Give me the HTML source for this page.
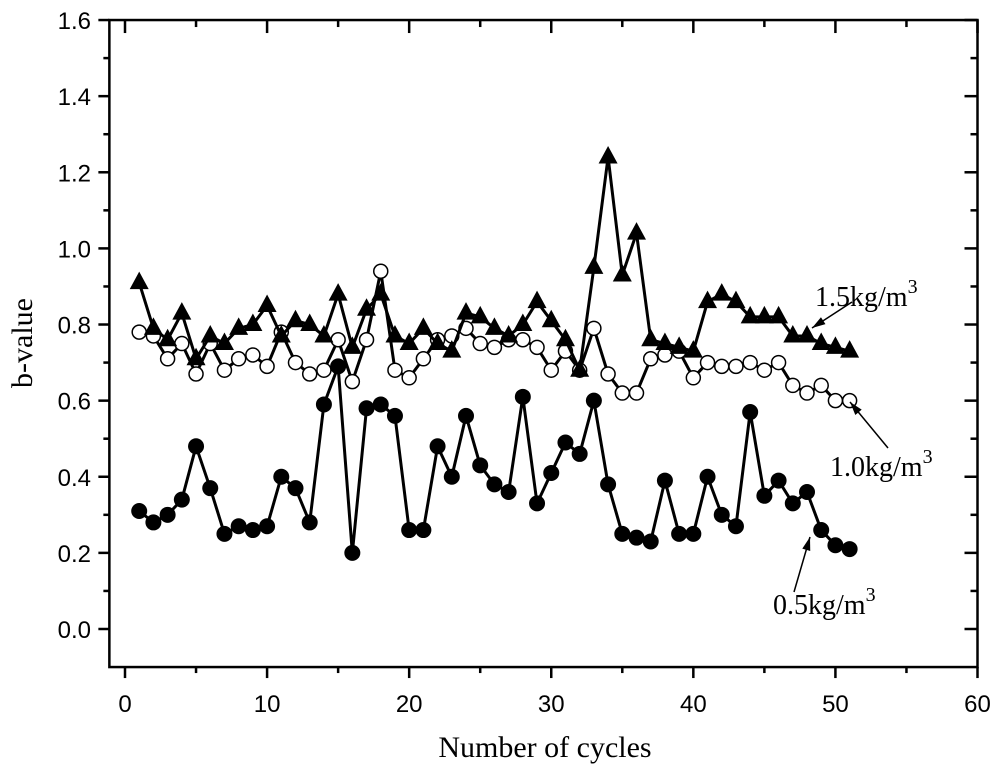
<!DOCTYPE html>
<html><head><meta charset="utf-8"><style>body{margin:0;background:#fff}svg{display:block}</style></head>
<body>
<svg id="chart" width="1000" height="774" xmlns="http://www.w3.org/2000/svg"></svg>
<script>
const cycles=[];for(let i=1;i<=51;i++)cycles.push(i);
const s15=[0.91,0.79,0.76,0.83,0.71,0.77,0.75,0.79,0.80,0.85,0.77,0.81,0.80,0.77,0.88,0.74,0.84,0.88,0.77,0.75,0.79,0.75,0.73,0.83,0.82,0.79,0.77,0.80,0.86,0.81,0.76,0.68,0.95,1.24,0.93,1.04,0.76,0.75,0.74,0.73,0.86,0.88,0.86,0.82,0.82,0.82,0.77,0.77,0.75,0.74,0.73];
const s10=[0.78,0.77,0.71,0.75,0.67,0.75,0.68,0.71,0.72,0.69,0.78,0.70,0.67,0.68,0.76,0.65,0.76,0.94,0.68,0.66,0.71,0.76,0.77,0.79,0.75,0.74,0.76,0.76,0.74,0.68,0.73,0.68,0.79,0.67,0.62,0.62,0.71,0.72,0.73,0.66,0.70,0.69,0.69,0.70,0.68,0.70,0.64,0.62,0.64,0.60,0.60];
const s05=[0.31,0.28,0.30,0.34,0.48,0.37,0.25,0.27,0.26,0.27,0.40,0.37,0.28,0.59,0.69,0.20,0.58,0.59,0.56,0.26,0.26,0.48,0.40,0.56,0.43,0.38,0.36,0.61,0.33,0.41,0.49,0.46,0.60,0.38,0.25,0.24,0.23,0.39,0.25,0.25,0.40,0.30,0.27,0.57,0.35,0.39,0.33,0.36,0.26,0.22,0.21];
const xTicks=[0,10,20,30,40,50,60];
const yTicks=[0.0,0.2,0.4,0.6,0.8,1.0,1.2,1.4,1.6];
const X=v=>125+v*(852.5/60), Y=v=>629-v*380.6;
const L=X(-1.1),R=X(60),T=Y(1.6),B=Y(-0.1);
const svg=document.getElementById('chart');const NS='http://www.w3.org/2000/svg';
function el(t,a,p){const e=document.createElementNS(NS,t);for(const k in a)e.setAttribute(k,a[k]);(p||svg).appendChild(e);return e;}
const frame=el('rect',{x:L,y:T,width:R-L,height:B-T,fill:'none',stroke:'#000','stroke-width':2.5});


const ax=el('g',{});


const sw={stroke:'#000','stroke-width':2.5};
xTicks.forEach(v=>{el('line',{x1:X(v),x2:X(v),y1:B,y2:B+11,...sw},ax);
 el('line',{x1:X(v),x2:X(v),y1:T,y2:T+13,...sw},ax);
 if(v<60){el('line',{x1:X(v+5),x2:X(v+5),y1:B,y2:B+6,...sw},ax);el('line',{x1:X(v+5),x2:X(v+5),y1:T,y2:T+7,...sw},ax);}
 const t=el('text',{x:X(v),y:712,'text-anchor':'middle','font-family':'Liberation Sans, sans-serif','font-size':24},ax);t.textContent=v;
 
 });
yTicks.forEach((v,i)=>{el('line',{x1:L-11,x2:L,y1:Y(v),y2:Y(v),...sw},ax);
 el('line',{x1:R-13,x2:R,y1:Y(v),y2:Y(v),...sw},ax);
 if(v<1.6){el('line',{x1:L-6,x2:L,y1:Y(v+0.1),y2:Y(v+0.1),...sw},ax);el('line',{x1:R-7,x2:R,y1:Y(v+0.1),y2:Y(v+0.1),...sw},ax);}
 const t=el('text',{x:91,y:Y(v)+9,'text-anchor':'end','font-family':'Liberation Sans, sans-serif','font-size':24},ax);t.textContent=v.toFixed(1);
 
 });
const xt=el('text',{x:545,y:757,'text-anchor':'middle','font-family':'Liberation Serif, serif','font-size':30});xt.textContent='Number of cycles';


const yt=el('text',{x:0,y:0,'text-anchor':'middle','font-family':'Liberation Serif, serif','font-size':30,transform:'translate(32,343) rotate(-90)'});yt.textContent='b-value';


function series(data,name,kind){const g=el('g',{});
 
 
 el('polyline',{points:data.map((v,i)=>X(cycles[i])+','+Y(v)).join(' '),fill:'none',stroke:'#000','stroke-width':3},g);
 data.forEach((v,i)=>{const x=X(cycles[i]),y=Y(v);let m;
  if(kind=='tri')m=el('polygon',{points:`${x},${y-11} ${x-9.5},${y+6.5} ${x+9.5},${y+6.5}`,fill:'#000'},g);
  else if(kind=='open')m=el('circle',{cx:x,cy:y,r:7,fill:'#fff',stroke:'#000','stroke-width':1.5},g);
  else m=el('circle',{cx:x,cy:y,r:8,fill:'#000'},g);
  
  });}
series(s05,'series-0-5kg','fill');
series(s10,'series-1-0kg','open');
series(s15,'series-1-5kg','tri');
function label(x,y,txt,name,ax1,ay1,ax2,ay2){const g=el('g',{});
 
 
 const t=el('text',{x:x,y:y,'font-family':'Liberation Serif, serif','font-size':28},g);
 t.innerHTML=txt+'<tspan dy="-13" font-size="20">3</tspan>';
 el('line',{x1:ax1,y1:ay1,x2:ax2,y2:ay2,stroke:'#000','stroke-width':1.5},g);
 const a=Math.atan2(ay2-ay1,ax2-ax1),Lh=14,w=0.3;
 el('polygon',{points:`${ax2},${ay2} ${ax2-Lh*Math.cos(a-w)},${ay2-Lh*Math.sin(a-w)} ${ax2-Lh*Math.cos(a+w)},${ay2-Lh*Math.sin(a+w)}`,fill:'#000'},g);}
label(815,306,'1.5kg/m','label-1-5kg',852,302,812,328);
label(830,476,'1.0kg/m','label-1-0kg',888,448,850,402);
label(773,614,'0.5kg/m','label-0-5kg',794,592,810,537);
</script>
</body></html>
